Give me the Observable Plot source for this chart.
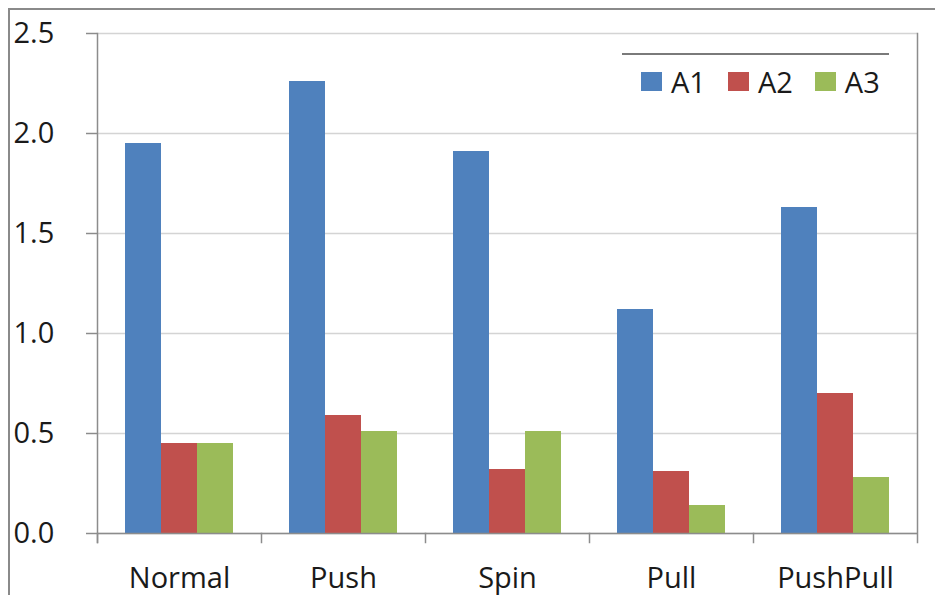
<!DOCTYPE html>
<html>
<head>
<meta charset="utf-8">
<script src="https://cdn.jsdelivr.net/npm/d3@7"></script>
<script src="https://cdn.jsdelivr.net/npm/@observablehq/plot@0.6"></script>
<style>
  html, body { margin: 0; padding: 0; background: #fff; }
  #wrap { position: relative; width: 935px; height: 595px; overflow: hidden; font-family: "Open Sans", sans-serif; }
  #border { position: absolute; left: 8px; top: 8px; right: -4px; bottom: -4px; border-top: 2px solid #8a8a8a; border-left: 2px solid #8a8a8a; pointer-events: none; }
  #legend { position: absolute; left: 622px; top: 53px; width: 267px; height: 54px; border-top: 2px solid #7a7a7a; background: #fff;
            display: flex; align-items: center; padding-left: 19px; box-sizing: border-box; font-size: 29px; color: #1a1a1a; }
  #legend .item { display: flex; align-items: center; margin-right: 22px; }
  #legend .sw { width: 21px; height: 19px; margin-right: 9px; }
</style>
</head>
<body>
<div id="wrap">
  <div id="chart"></div>
  <div id="border"></div>
  <div id="legend"></div>
</div>
<script>
// Categories, series and values for the grouped bars
const categories = ["Normal", "Push", "Spin", "Pull", "PushPull"];
const series = ["A1", "A2", "A3"];
const a1 = [1.95, 2.26, 1.91, 1.12, 1.63];
const a2 = [0.45, 0.59, 0.32, 0.31, 0.70];
const a3 = [0.45, 0.51, 0.51, 0.14, 0.28];
const colors = ["#4F81BD", "#C0504D", "#9BBB59"];
const yTicks = [0, 0.5, 1.0, 1.5, 2.0, 2.5];

const values = [a1, a2, a3];
const data = categories.flatMap((c, i) =>
  series.map((s, j) => ({category: c, series: s, value: values[j][i]}))
);

const W = 935, H = 595;
const margin = {top: 33, right: 18, bottom: 62, left: 96};
const plotH = H - margin.top - margin.bottom;
const axisColor = "#8c8c8c";
const tickLen = 9;
const fontSize = 29;

const chart = Plot.plot({
  width: W,
  height: H,
  marginTop: margin.top,
  marginRight: margin.right,
  marginBottom: margin.bottom,
  marginLeft: margin.left,
  style: {fontFamily: "'Open Sans', sans-serif", background: "transparent", color: "#1a1a1a"},
  fx: {domain: categories, padding: 0, label: null},
  x: {domain: series, paddingInner: 0, paddingOuter: 0.75, axis: null},
  y: {domain: [0, 2.5], axis: null, label: null},
  color: {domain: series, range: colors},
  marks: [
    Plot.gridY(yTicks, {stroke: "#d4d4d4", strokeOpacity: 1, strokeWidth: 1.5}),
    Plot.barY(data, {fx: "category", x: "series", y: "value", fill: "series", inset: 0}),
    // value axis: labels at the far left, short ticks next to the axis line
    Plot.axisY({
      ticks: yTicks, tickFormat: d3.format(".1f"), tickSize: 11, tickPadding: 73, label: null,
      textAnchor: "start", fontSize, stroke: axisColor, strokeWidth: 1.5, fill: "#1a1a1a"
    }),
    // vertical axis line, extended below the baseline like a category tick
    Plot.frame({anchor: "left", facetAnchor: "left", stroke: axisColor, strokeWidth: 1.5, insetBottom: -tickLen}),
    // category boundary ticks under the baseline
    Plot.frame({anchor: "left", stroke: axisColor, strokeWidth: 1.5, insetTop: plotH, insetBottom: -tickLen}),
    Plot.frame({anchor: "right", facetAnchor: "right", stroke: axisColor, strokeWidth: 1.5, insetBottom: -tickLen}),
    Plot.ruleY([0], {stroke: axisColor, strokeWidth: 1.5}),
    Plot.axisFx({anchor: "bottom", tickSize: 0, tickPadding: 34, fontSize, label: null, fill: "#1a1a1a"})
  ]
});
document.getElementById("chart").append(chart);

// Series key
const legend = document.getElementById("legend");
series.forEach((s, j) => {
  const item = document.createElement("div");
  item.className = "item";
  const sw = document.createElement("div");
  sw.className = "sw";
  sw.style.background = colors[j];
  const label = document.createElement("span");
  label.textContent = s;
  item.append(sw, label);
  legend.append(item);
});
</script>
</body>
</html>
